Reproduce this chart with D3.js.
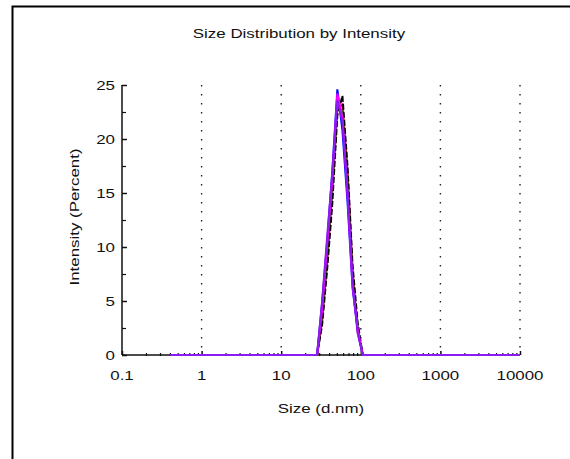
<!DOCTYPE html>
<html><head><meta charset="utf-8">
<script src="https://cdn.jsdelivr.net/npm/d3@7"></script>
<style>
html,body{margin:0;padding:0;background:#fff;}
svg{display:block;}
text{font-family:"Liberation Sans",Arial,sans-serif;fill:#111;}
</style></head>
<body>
<svg id="c" width="570" height="459"></svg>
<script>
// ---- data ----
const sizes = [0.4,0.4632,0.5365,0.6213,0.7195,0.8332,0.9649,1.117,1.294,1.499,1.736,2.01,2.328,2.696,3.122,3.615,4.187,4.849,5.615,6.503,7.531,8.721,10.1,11.7,13.54,15.69,18.17,21.04,24.36,28.21,32.67,37.84,43.82,50.75,58.77,68.06,78.82,91.28,105.7,122.4,141.8,164.2,190.1,220.2,255,295.3,342,396.1,458.7,531.2,615.1,712.4,825,955.4,1106,1281,1484,1718,1990,2305,2669,3091,3580,4145,4801,5560,6439,7456,8635,10000];
const red     = [0,0,0,0,0,0,0,0,0,0,0,0,0,0,0,0,0,0,0,0,0,0,0,0,0,0,0,0,0,0,3.2,8.6,15,22.8,23.2,17,7.8,2.2,0,0,0,0,0,0,0,0,0,0,0,0,0,0,0,0,0,0,0,0,0,0,0,0,0,0,0,0,0,0,0,0];
const green   = [0,0,0,0,0,0,0,0,0,0,0,0,0,0,0,0,0,0,0,0,0,0,0,0,0,0,0,0,0,0,3.8,9.3,15.5,23.2,22.5,16,7,2.6,0,0,0,0,0,0,0,0,0,0,0,0,0,0,0,0,0,0,0,0,0,0,0,0,0,0,0,0,0,0,0,0];
const black   = [0,0,0,0,0,0,0,0,0,0,0,0,0,0,0,0,0,0,0,0,0,0,0,0,0,0,0,0,0,0,2.8,8,14,22.2,24,17.5,8.3,3,0,0,0,0,0,0,0,0,0,0,0,0,0,0,0,0,0,0,0,0,0,0,0,0,0,0,0,0,0,0,0,0];
const blue    = [0,0,0,0,0,0,0,0,0,0,0,0,0,0,0,0,0,0,0,0,0,0,0,0,0,0,0,0,0,0,4.8,10.5,17,24.6,20.8,14.2,6.2,2.3,0,0,0,0,0,0,0,0,0,0,0,0,0,0,0,0,0,0,0,0,0,0,0,0,0,0,0,0,0,0,0,0];
const magenta = [0,0,0,0,0,0,0,0,0,0,0,0,0,0,0,0,0,0,0,0,0,0,0,0,0,0,0,0,0,0,4.2,10.2,16.2,24.2,22,15,6.5,2.4,0,0,0,0,0,0,0,0,0,0,0,0,0,0,0,0,0,0,0,0,0,0,0,0,0,0,0,0,0,0,0,0];
const purple  = [0,0,0,0,0,0,0,0,0,0,0,0,0,0,0,0,0,0,0,0,0,0,0,0,0,0,0,0,0,0,5,11,16.8,23.6,21.6,15.2,6.6,2,0,0,0,0,0,0,0,0,0,0,0,0,0,0,0,0,0,0,0,0,0,0,0,0,0,0,0,0,0,0,0,0];
const xTicks = [0.1,1,10,100,1000,10000];
const xTickLabels = ["0.1","1","10","100","1000","10000"];
const yTicks = [0,5,10,15,20,25];
const yMinor = [2.5,7.5,12.5,17.5,22.5];
const gridAt = [1,10,100,1000,10000];

const series = [
  {name:"red", values:red, color:"#e8002c", dash:null},
  {name:"green", values:green, color:"#007a00", dash:null},
  {name:"black", values:black, color:"#000000", dash:"6,2"},
  {name:"blue", values:blue, color:"#0000ff", dash:null},
  {name:"magenta", values:magenta, color:"#ff00ff", dash:null},
  {name:"purple", values:purple, color:"#8a1cf0", dash:null}
];

const svg = d3.select("#c");
const STRETCH = 1.3;
function stretch(sel){
  sel.each(function(){
    const w = this.getComputedTextLength();
    d3.select(this).attr("textLength", w*STRETCH).attr("lengthAdjust","spacingAndGlyphs");
  });
}

// frame
svg.append("path").attr("d","M12.5,459 L12.5,6.5 L570,6.5").attr("fill","none").attr("stroke","#000").attr("stroke-width",2);

const x = d3.scaleLog().domain([0.1,10000]).range([122,520]);
const y = d3.scaleLinear().domain([0,25]).range([355,85]);

// gridlines
svg.append("g").selectAll("line").data(gridAt).join("line")
  .attr("x1",d=>x(d)).attr("x2",d=>x(d)).attr("y1",y(25)).attr("y2",y(0))
  .attr("stroke","#222").attr("stroke-width",1.4).attr("stroke-dasharray","1.4,7.6");

// y axis
const yAxis = d3.axisRight(y).tickValues(yTicks).tickSize(5).tickFormat("");
const gy = svg.append("g").attr("transform","translate(122,0)").call(yAxis);
gy.select(".domain").attr("stroke","#111").attr("stroke-width",1.5).attr("d","M0,"+y(25)+"V"+y(0));
gy.selectAll(".tick line").attr("stroke","#111").attr("stroke-width",1.5);
const gyMinor = svg.append("g").attr("transform","translate(122,0)")
  .call(d3.axisRight(y).tickValues(yMinor).tickSize(4).tickFormat(""));
gyMinor.select(".domain").remove();
gyMinor.selectAll(".tick line").attr("stroke","#111").attr("stroke-width",1.2);
svg.append("g").selectAll("text").data(yTicks).join("text")
  .attr("x",115).attr("y",d=>y(d)).attr("dy","0.36em").attr("text-anchor","end")
  .attr("font-size",13).text(d=>d).call(stretch);

// x axis
const xMinor = [];
[0.1,1,10,100,1000].forEach(b=>{for(let k=2;k<=9;k++) xMinor.push(b*k);});
const gx = svg.append("g").attr("transform","translate(0,355)")
  .call(d3.axisTop(x).tickValues(xTicks).tickSize(4).tickFormat(""));
gx.select(".domain").attr("stroke","#111").attr("stroke-width",1.5).attr("d","M122,0H520");
gx.selectAll(".tick line").attr("stroke","#111").attr("stroke-width",1.5);
const gxm = svg.append("g").attr("transform","translate(0,356)")
  .call(d3.axisTop(x).tickValues(xMinor).tickSize(3).tickFormat(""));
gxm.select(".domain").remove();
gxm.selectAll(".tick line").attr("stroke","#111").attr("stroke-width",1.2);
svg.append("g").selectAll("text").data(xTicks).join("text")
  .attr("x",d=>x(d)).attr("y",380).attr("text-anchor","middle")
  .attr("font-size",13).text((d,i)=>xTickLabels[i]).call(stretch);

// series
const line = d3.line().x((d,i)=>x(sizes[i])).y(d=>y(d));
svg.append("g").selectAll("path").data(series).join("path")
  .attr("d",d=>line(d.values)).attr("fill","none")
  .attr("stroke",d=>d.color).attr("stroke-width",2)
  .attr("stroke-dasharray",d=>d.dash)
  .attr("stroke-linejoin","miter");

// titles
svg.append("text").attr("x",299).attr("y",38).attr("text-anchor","middle")
  .attr("font-size",13).text("Size Distribution by Intensity").call(stretch);
svg.append("text").attr("x",321).attr("y",413).attr("text-anchor","middle")
  .attr("font-size",13).text("Size (d.nm)").call(stretch);
svg.append("text").attr("transform","translate(79,217) rotate(-90)").attr("text-anchor","middle")
  .attr("font-size",13).text("Intensity (Percent)").call(stretch);
</script>
</body></html>
